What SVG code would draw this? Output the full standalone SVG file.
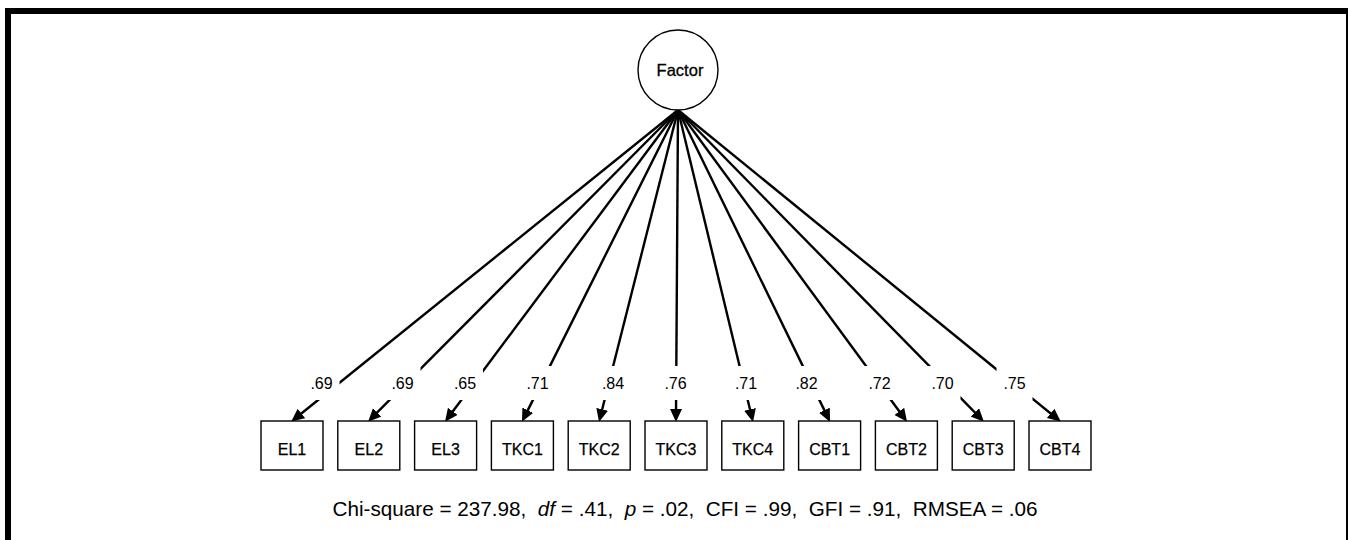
<svg xmlns="http://www.w3.org/2000/svg" width="1348" height="540" viewBox="0 0 1348 540">
  <style>
    .frame { fill: none; stroke: #000; stroke-width: 6; }
    .latent { fill: #fff; stroke: #000; stroke-width: 1.4; }
    .obs { fill: #fff; stroke: #000; stroke-width: 1.4; }
    .path { stroke: #000; stroke-width: 2.4; fill: none; marker-end: url(#head); }
    text { font-family: "Liberation Sans", Arial, sans-serif; fill: #000; }
    .node-label { font-size: 16px; text-anchor: middle; stroke: #000; stroke-width: 0.25; }
    .factor-label { font-size: 16.5px; text-anchor: middle; stroke: #000; stroke-width: 0.3; }
    .loading { font-size: 16px; text-anchor: middle; }
    .fit { font-size: 20.7px; text-anchor: middle; }
  </style>
  <defs>
    <marker id="head" markerUnits="userSpaceOnUse" markerWidth="15" markerHeight="13" refX="6" refY="6" orient="auto">
      <path d="M0,0 L13,6 L0,12 z" fill="#000"/>
    </marker>
    <!-- gaps in the loading paths where the coefficients sit -->
    <mask id="label-gaps" maskUnits="userSpaceOnUse" x="0" y="0" width="1348" height="540">
      <rect x="0" y="0" width="1348" height="540" fill="#fff"/>
      <rect x="303.5" y="366" width="36" height="34" fill="#000"/>
      <rect x="384.5" y="366" width="36" height="34" fill="#000"/>
      <rect x="447" y="366" width="36" height="34" fill="#000"/>
      <rect x="519.5" y="366" width="36" height="34" fill="#000"/>
      <rect x="595" y="366" width="36" height="34" fill="#000"/>
      <rect x="657.5" y="366" width="36" height="34" fill="#000"/>
      <rect x="728" y="366" width="36" height="34" fill="#000"/>
      <rect x="788.5" y="366" width="36" height="34" fill="#000"/>
      <rect x="861.5" y="366" width="36" height="34" fill="#000"/>
      <rect x="924.5" y="366" width="36" height="34" fill="#000"/>
      <rect x="996.5" y="366" width="36" height="34" fill="#000"/>
    </mask>
  </defs>

  <rect width="1348" height="540" fill="#fff"/>
  <rect class="frame" x="8" y="11" width="1341" height="545"/>

  <!-- factor loadings -->
  <g id="connectors" mask="url(#label-gaps)">
    <line class="path" x1="678" y1="110" x2="296.7" y2="417.2"/>
    <line class="path" x1="678" y1="110" x2="373.0" y2="416.7"/>
    <line class="path" x1="678" y1="110" x2="449.2" y2="416.2"/>
    <line class="path" x1="678" y1="110" x2="525.1" y2="415.6"/>
    <line class="path" x1="678" y1="110" x2="600.7" y2="415.2"/>
    <line class="path" x1="678" y1="110" x2="676.0" y2="415.0"/>
    <line class="path" x1="678" y1="110" x2="751.4" y2="415.2"/>
    <line class="path" x1="678" y1="110" x2="827.0" y2="415.6"/>
    <line class="path" x1="678" y1="110" x2="902.9" y2="416.2"/>
    <line class="path" x1="678" y1="110" x2="979.0" y2="416.7"/>
    <line class="path" x1="678" y1="110" x2="1055.3" y2="417.2"/>
  </g>

  <g id="loadings">
    <text class="loading" x="321.5" y="389">.69</text>
    <text class="loading" x="402.5" y="389">.69</text>
    <text class="loading" x="465" y="389">.65</text>
    <text class="loading" x="537.5" y="389">.71</text>
    <text class="loading" x="613" y="389">.84</text>
    <text class="loading" x="675.5" y="389">.76</text>
    <text class="loading" x="746" y="389">.71</text>
    <text class="loading" x="806.5" y="389">.82</text>
    <text class="loading" x="879.5" y="389">.72</text>
    <text class="loading" x="942.5" y="389">.70</text>
    <text class="loading" x="1014.5" y="389">.75</text>
  </g>

  <g id="factor">
    <circle class="latent" cx="678" cy="70" r="40"/>
    <text class="factor-label" x="680" y="76">Factor</text>
  </g>

  <g id="EL1"><rect class="obs" x="261" y="421" width="62" height="49"/><text class="node-label" x="292" y="454.5">EL1</text></g>
  <g id="EL2"><rect class="obs" x="337.8" y="421" width="62" height="49"/><text class="node-label" x="368.8" y="454.5">EL2</text></g>
  <g id="EL3"><rect class="obs" x="414.6" y="421" width="62" height="49"/><text class="node-label" x="445.6" y="454.5">EL3</text></g>
  <g id="TKC1"><rect class="obs" x="491.4" y="421" width="62" height="49"/><text class="node-label" x="522.4" y="454.5">TKC1</text></g>
  <g id="TKC2"><rect class="obs" x="568.2" y="421" width="62" height="49"/><text class="node-label" x="599.2" y="454.5">TKC2</text></g>
  <g id="TKC3"><rect class="obs" x="645" y="421" width="62" height="49"/><text class="node-label" x="676" y="454.5">TKC3</text></g>
  <g id="TKC4"><rect class="obs" x="721.8" y="421" width="62" height="49"/><text class="node-label" x="752.8" y="454.5">TKC4</text></g>
  <g id="CBT1"><rect class="obs" x="798.6" y="421" width="62" height="49"/><text class="node-label" x="829.6" y="454.5">CBT1</text></g>
  <g id="CBT2"><rect class="obs" x="875.4" y="421" width="62" height="49"/><text class="node-label" x="906.4" y="454.5">CBT2</text></g>
  <g id="CBT3"><rect class="obs" x="952.2" y="421" width="62" height="49"/><text class="node-label" x="983.2" y="454.5">CBT3</text></g>
  <g id="CBT4"><rect class="obs" x="1029" y="421" width="62" height="49"/><text class="node-label" x="1060" y="454.5">CBT4</text></g>

  <text class="fit" x="685" y="516" xml:space="preserve">Chi-square = 237.98,  <tspan font-style="italic">df</tspan> = .41,  <tspan font-style="italic">p</tspan> = .02,  CFI = .99,  GFI = .91,  RMSEA = .06</text>
</svg>
